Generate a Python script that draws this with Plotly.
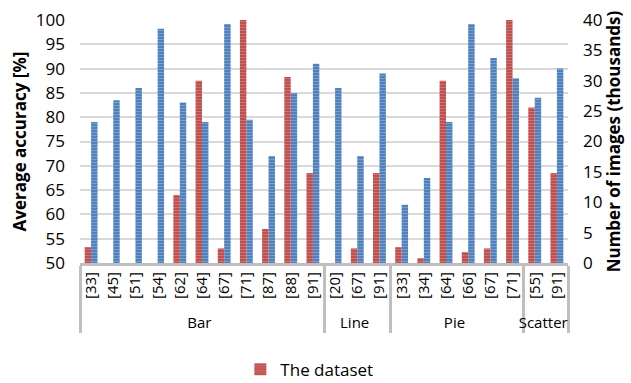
import plotly.graph_objects as go

group_names = ["Bar", "Line", "Pie", "Scatter"]
group_labels = [
    ["[33]", "[45]", "[51]", "[54]", "[62]", "[64]", "[67]", "[71]", "[87]", "[88]", "[91]"],
    ["[20]", "[67]", "[91]"],
    ["[33]", "[34]", "[64]", "[66]", "[67]", "[71]"],
    ["[55]", "[91]"],
]
accuracy = [79, 83.5, 86, 98.2, 83, 79, 99.2, 79.5, 72, 85, 91,
            86, 72, 89,
            62, 67.5, 79, 99.2, 92.2, 88,
            84, 90]
images_k = [2.6, None, None, None, 11.2, 30, 2.4, 40, 5.6, 30.6, 14.8,
            None, 2.4, 14.8,
            2.6, 0.8, 30, 1.8, 2.4, 40,
            25.6, 14.8]

# build multicategory coordinates; zero-width spaces keep repeated labels
# unique per group so plotly preserves the original order
groups, labels = [], []
for gi, (g, labs) in enumerate(zip(group_names, group_labels)):
    for lab in labs:
        groups.append(g)
        labels.append(lab + "\u200b" * gi)

FONT = "Open Sans"
fig = go.Figure()
fig.add_trace(go.Bar(
    x=[groups, labels], y=images_k, name="The dataset", yaxis="y2",
    offsetgroup="a",
    marker=dict(color="#c0504d", line=dict(width=0),
                pattern=dict(shape="-", size=3, solidity=0.3,
                             bgcolor="#c0504d", fgcolor="#e39a98", fillmode="overlay")),
))
fig.add_trace(go.Bar(
    x=[groups, labels], y=accuracy, name="Average accuracy", yaxis="y",
    offsetgroup="b", showlegend=False,
    marker=dict(color="#4f81bd", line=dict(width=0),
                pattern=dict(shape="-", size=3, solidity=0.3,
                             bgcolor="#4f81bd", fgcolor="#a7c2e8", fillmode="overlay")),
))
fig.update_layout(
    width=631, height=383,
    margin=dict(l=80, r=63, t=20, b=120),
    paper_bgcolor="white", plot_bgcolor="white",
    barmode="group", bargap=0.42, bargroupgap=0,
    font=dict(family=FONT, size=15, color="#000000"),
    xaxis=dict(type="multicategory", tickangle=-90, showline=True, linecolor="#bfbfbf",
               linewidth=3, dividercolor="#bfbfbf", dividerwidth=3, showgrid=False,
               ticks="", tickfont=dict(size=15), automargin=False),
    yaxis=dict(range=[50, 100], dtick=5, showgrid=True, gridcolor="#d9d9d9", gridwidth=2,
               zeroline=False, ticks="", tickfont=dict(size=17), ticklabelstandoff=14,
               automargin=False,
               title=dict(text="<b>Average accuracy [%]</b>", font=dict(size=17), standoff=4)),
    yaxis2=dict(range=[0, 40], dtick=5, overlaying="y", side="right", showgrid=False,
                zeroline=False, ticks="", tickfont=dict(size=17), ticklabelstandoff=14,
                automargin=False,
                title=dict(text="<b>Number of images (thousands)</b>", font=dict(size=17), standoff=2)),
    legend=dict(orientation="h", x=0.47, xanchor="center", yref="container",
                y=0.035, yanchor="middle", font=dict(size=17), tracegroupgap=0),
    showlegend=True,
)
fig.write_html("out.html")
